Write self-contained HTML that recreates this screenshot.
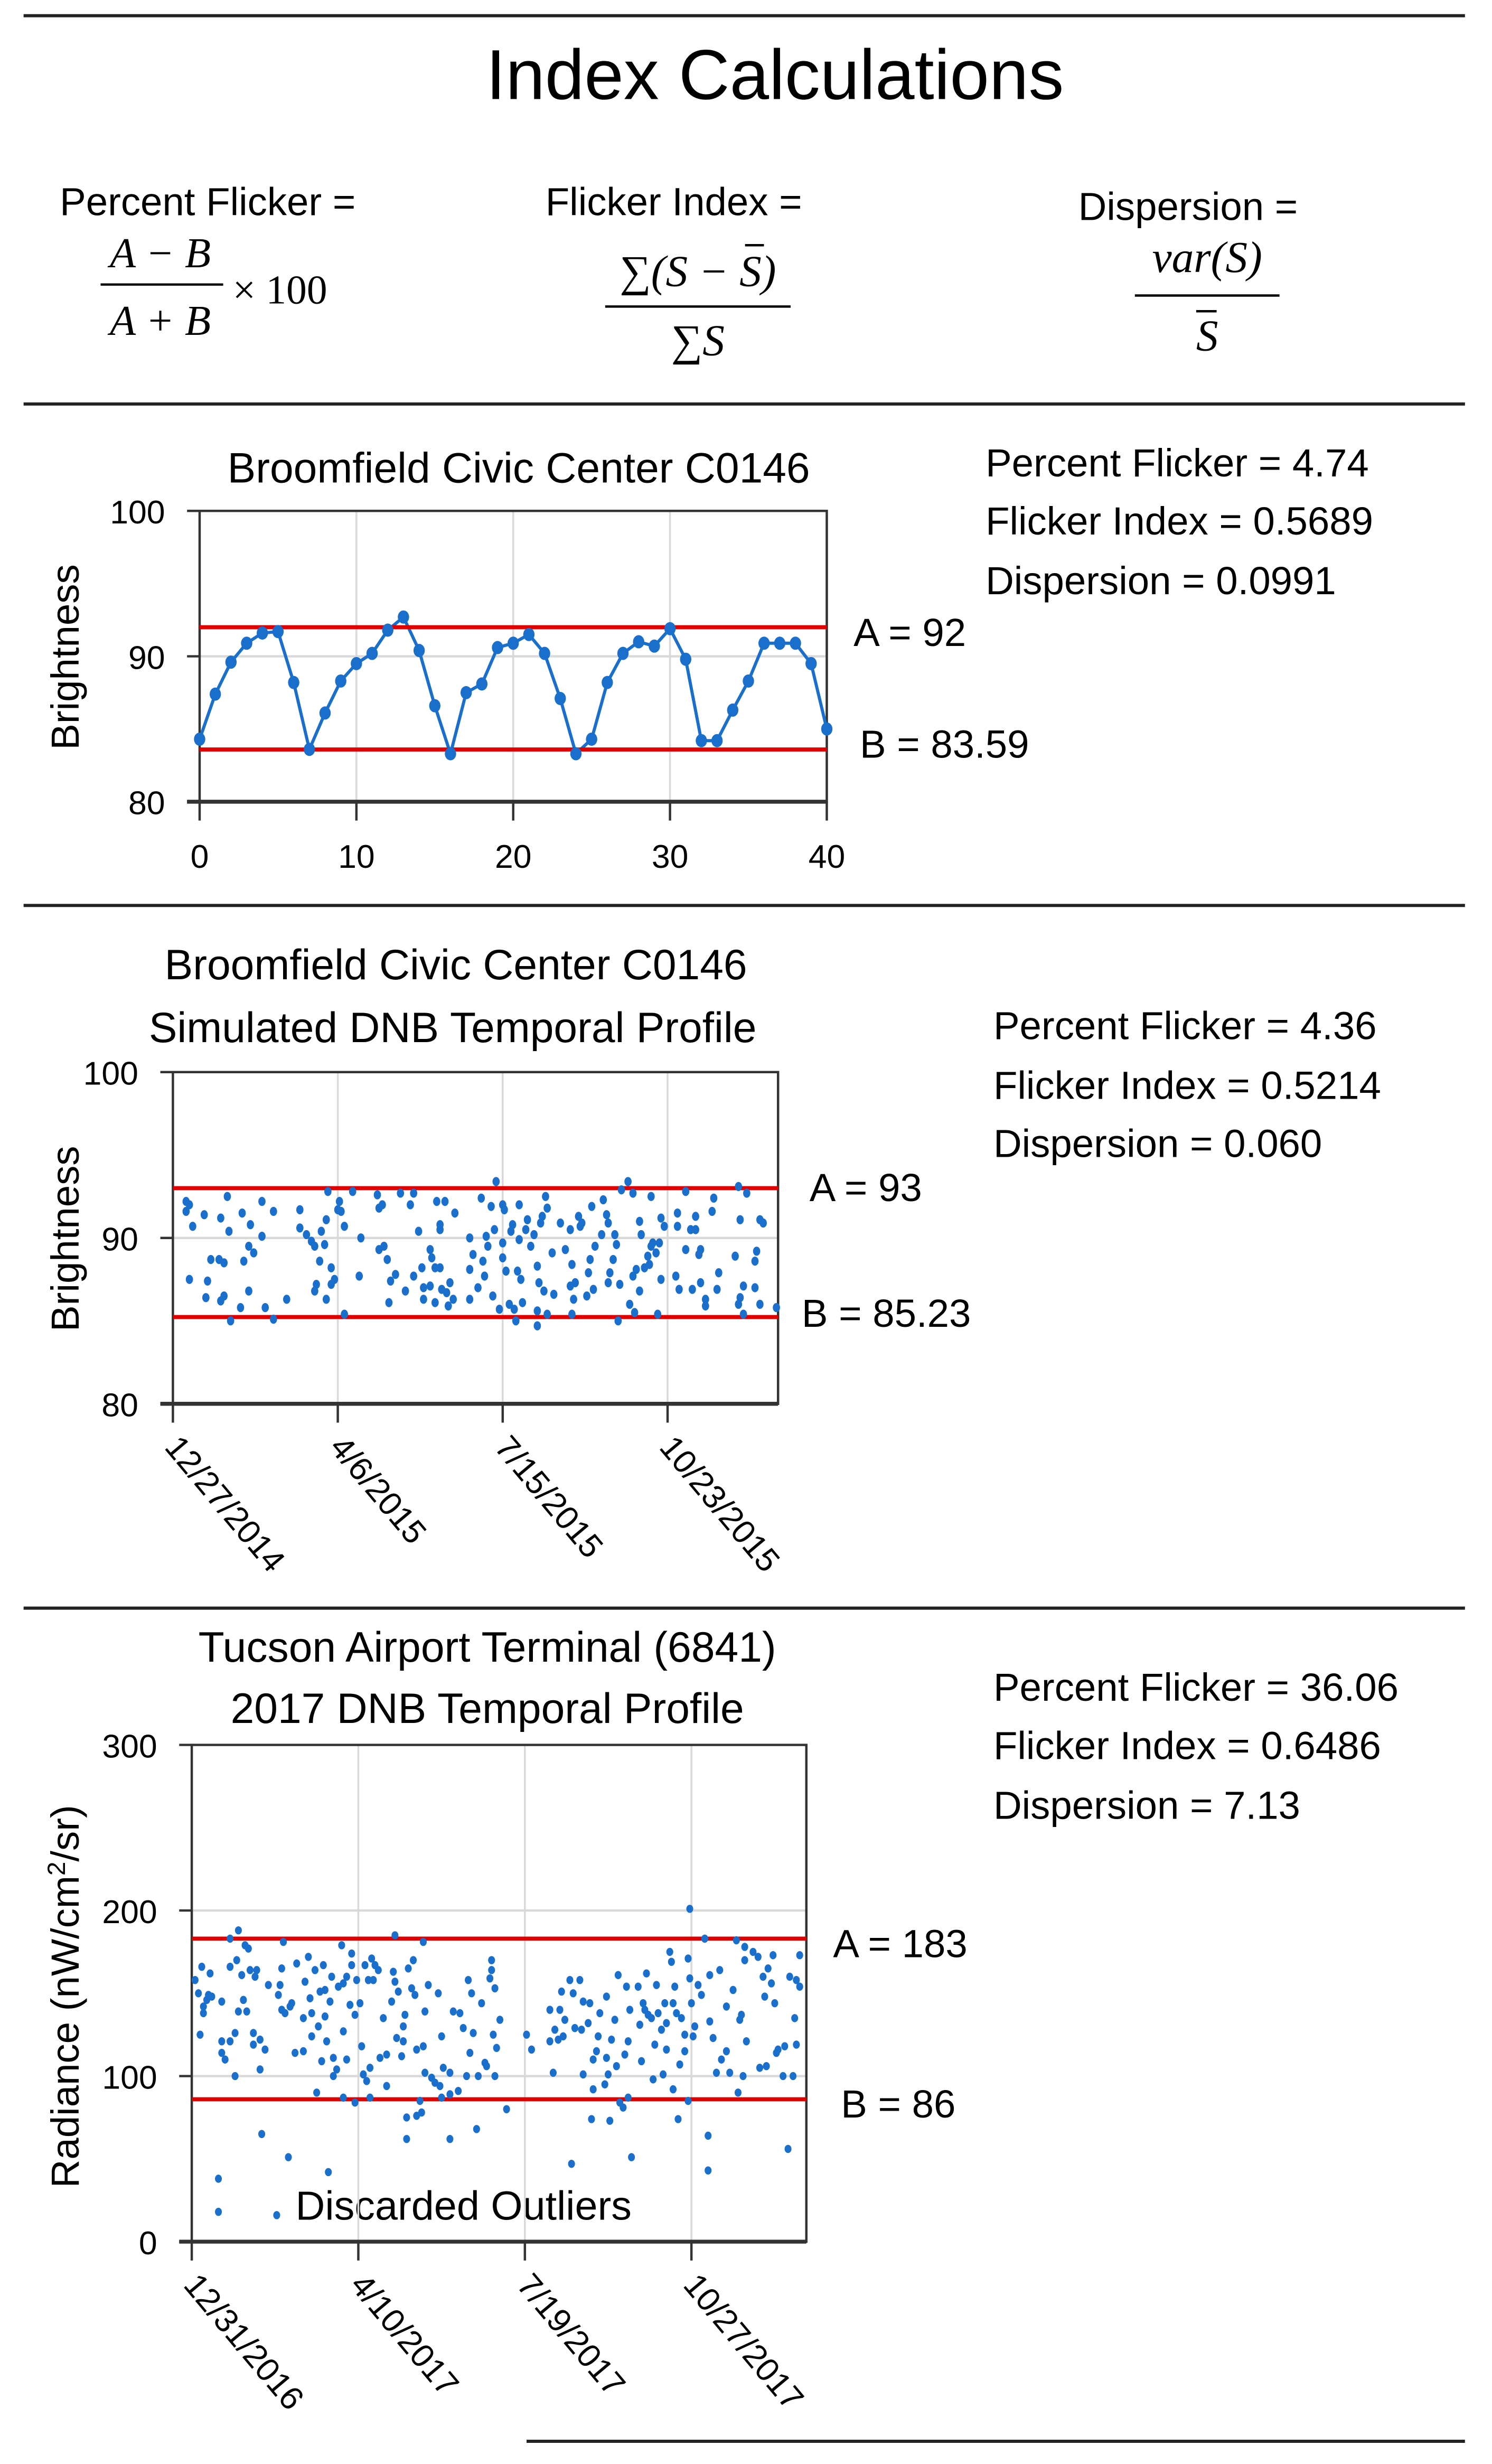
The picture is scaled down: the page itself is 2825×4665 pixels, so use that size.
<!DOCTYPE html>
<html><head><meta charset="utf-8">
<style>
html,body{margin:0;padding:0;background:#fff;}
svg{display:block;}
text{font-family:"Liberation Sans","DejaVu Sans",sans-serif;fill:#000;}
.m{font-family:"Liberation Serif",serif;font-style:italic;}
</style></head>
<body>
<svg id="svg" xmlns="http://www.w3.org/2000/svg" width="2825" height="4665" viewBox="0 0 949.2 1567.4" preserveAspectRatio="xMinYMin meet">
<g>
<line x1="15" y1="10" x2="932" y2="10" stroke="#222" stroke-width="2"/>
<text x="493" y="63" font-size="45" text-anchor="middle">Index Calculations</text>
<text x="38" y="137" font-size="25">Percent Flicker =</text>
<text class="m" x="102" y="170" font-size="27" text-anchor="middle">A − B</text>
<line x1="64" y1="181" x2="142" y2="181" stroke="#000" stroke-width="1.5"/>
<text class="m" x="102" y="213" font-size="27" text-anchor="middle">A + B</text>
<text x="148" y="193" font-size="26" style="font-family:'Liberation Serif',serif">× 100</text>
<text x="347" y="137" font-size="25">Flicker Index =</text>
<text class="m" x="444" y="182" font-size="28" text-anchor="middle">∑(S − S)</text>
<line x1="474" y1="156" x2="486" y2="156" stroke="#000" stroke-width="1.5"/>
<line x1="385" y1="195" x2="503" y2="195" stroke="#000" stroke-width="1.5"/>
<text class="m" x="444" y="226" font-size="28" text-anchor="middle">∑S</text>
<text x="686" y="140" font-size="25">Dispersion =</text>
<text class="m" x="768" y="173" font-size="28" text-anchor="middle">var(S)</text>
<line x1="722" y1="188" x2="814" y2="188" stroke="#000" stroke-width="1.5"/>
<text class="m" x="768" y="223" font-size="28" text-anchor="middle">S</text>
<line x1="761" y1="198" x2="774" y2="198" stroke="#000" stroke-width="1.5"/>
<line x1="15" y1="257" x2="932" y2="257" stroke="#222" stroke-width="2"/>
<line x1="15" y1="576" x2="932" y2="576" stroke="#222" stroke-width="2"/>
<line x1="15" y1="1023" x2="932" y2="1023" stroke="#222" stroke-width="2"/>
<line x1="335" y1="1553" x2="932" y2="1553" stroke="#222" stroke-width="2"/>
</g>

<g>
<text x="330" y="307" font-size="27" text-anchor="middle">Broomfield Civic Center C0146</text>
<text x="627" y="303" font-size="25">Percent Flicker = 4.74</text>
<text x="627" y="340" font-size="25">Flicker Index = 0.5689</text>
<text x="627" y="378" font-size="25">Dispersion = 0.0991</text>
<text x="543" y="411" font-size="25">A = 92</text>
<text x="547" y="482" font-size="25">B = 83.59</text>
<text transform="translate(50,418) rotate(-90)" font-size="25" text-anchor="middle">Brightness</text>
</g>

<g>
<text x="290" y="623" font-size="27" text-anchor="middle">Broomfield Civic Center C0146</text>
<text x="288" y="663" font-size="27" text-anchor="middle">Simulated DNB Temporal Profile</text>
<text x="632" y="661" font-size="25">Percent Flicker = 4.36</text>
<text x="632" y="699" font-size="25">Flicker Index = 0.5214</text>
<text x="632" y="736" font-size="25">Dispersion = 0.060</text>
<text x="515" y="764" font-size="25">A = 93</text>
<text x="510" y="844" font-size="25">B = 85.23</text>
<text transform="translate(50,788) rotate(-90)" font-size="25" text-anchor="middle">Brightness</text>
</g>

<g>
<text x="310" y="1057" font-size="27" text-anchor="middle">Tucson Airport Terminal (6841)</text>
<text x="310" y="1096" font-size="27" text-anchor="middle">2017 DNB Temporal Profile</text>
<text x="632" y="1082" font-size="25">Percent Flicker = 36.06</text>
<text x="632" y="1119" font-size="25">Flicker Index = 0.6486</text>
<text x="632" y="1157" font-size="25">Dispersion = 7.13</text>
<text x="530" y="1245" font-size="25">A = 183</text>
<text x="535" y="1347" font-size="25">B = 86</text>
<text transform="translate(50,1270) rotate(-90)" font-size="25" text-anchor="middle">Radiance (nW/cm<tspan baseline-shift="super" font-size="16">2</tspan>/sr)</text>
<text x="188" y="1412" font-size="26">Discarded Outliers</text>
</g>
<g id="c1"></g>
<g id="c2"></g>
<g id="c3"></g>
</svg>
<script>
const NS="http://www.w3.org/2000/svg";
// ---- chart 1 data ----
const c1Index=[0,1,2,3,4,5,6,7,8,9,10,11,12,13,14,15,16,17,18,19,20,21,22,23,24,25,26,27,28,29,30,31,32,33,34,35,36,37,38,39,40];
const c1Values=[84.3,87.4,89.6,90.9,91.6,91.7,88.2,83.6,86.1,88.3,89.5,90.2,91.8,92.7,90.4,86.6,83.3,87.5,88.1,90.6,90.9,91.5,90.2,87.1,83.3,84.3,88.2,90.2,91.0,90.7,91.9,89.8,84.2,84.2,86.3,88.3,90.9,90.9,90.9,89.5,85.0];
const c1XTicks=[0,10,20,30,40];
const c1YTicks=[80,90,100];
const c1Refs=[92,83.59];
// ---- chart 2 data ----
const c2Days=[8,10,8,12,19,10,21,20,23,29,28,31,34,33,31,29,35,41,42,43,46,47,46,49,54,54,56,61,61,69,77,77,81,84,86,87,86,89,90,92,93,93,94,96,96,98,100,101,102,104,104,109,114,113,124,125,127,125,128,130,131,132,135,138,141,144,146,146,149,151,152,152,156,157,156,159,159,160,162,162,162,163,165,166,167,168,170,171,180,180,180,182,185,187,188,189,190,191,193,194,195,196,198,200,200,200,201,202,204,205,206,207,208,209,210,210,211,212,214,215,217,219,221,221,221,222,223,224,225,226,227,227,230,231,235,238,241,241,242,242,243,244,246,247,248,251,252,253,254,255,256,260,261,263,264,264,265,267,268,269,270,271,272,276,277,279,279,280,281,283,283,284,286,288,289,290,290,291,293,294,295,296,296,298,305,306,306,307,311,311,314,315,317,317,319,320,320,323,323,327,328,330,331,341,343,343,344,344,346,346,348,353,353,354,356,356,358,366];
const c2Values=[92.2,92.0,91.6,90.7,91.4,87.5,87.4,86.4,88.7,91.2,88.7,88.5,90.4,92.5,86.5,86.2,85.0,85.8,91.5,88.6,89.5,90.8,86.8,89.1,90.1,92.2,85.8,91.6,85.1,86.3,91.7,90.6,90.2,89.8,89.5,87.2,86.8,88.6,90.4,89.6,86.3,91.1,92.8,87.2,88.2,87.5,91.7,92.2,91.6,90.7,85.4,92.8,90.0,87.7,92.6,91.8,92.0,89.3,89.5,88.7,86.1,87.4,87.8,92.7,86.8,92.0,92.7,87.7,90.4,88.2,87.0,86.3,89.3,88.8,87.1,86.1,88.2,92.2,90.5,90.8,88.2,86.9,92.2,86.7,85.9,87.3,86.3,91.5,90.0,88.1,86.3,89.0,87.0,92.4,88.6,87.7,90.1,89.5,91.9,86.5,90.5,93.4,85.7,88.8,89.7,92.0,91.7,88.0,86.0,90.4,90.8,85.7,85.0,88.0,89.9,92.0,87.5,86.1,90.5,91.1,89.5,90.2,88.3,85.6,84.7,87.3,90.9,91.3,86.8,92.5,85.4,91.8,89.1,86.6,90.9,89.3,90.5,87.1,88.4,85.4,86.3,87.3,91.3,90.7,90.9,86.5,87.9,88.7,91.9,86.9,89.5,90.2,92.3,91.4,90.9,87.3,87.9,88.7,90.2,89.6,85.0,87.2,92.9,93.4,86.0,92.7,87.7,85.5,88.1,86.8,91.0,90.2,88.2,88.9,88.4,92.5,89.5,89.7,89.1,85.4,89.7,87.5,91.2,90.7,87.7,91.5,90.7,86.9,89.3,92.8,90.5,86.9,91.3,90.5,89.0,89.3,87.3,86.3,85.9,91.6,92.4,86.9,87.9,88.9,93.1,86.0,91.1,86.4,85.4,87.1,92.7,88.6,87.0,89.2,91.1,86.0,90.9,85.8];
const c2TickDays=[0,100,200,300];
const c2TickLabels=["12/27/2014","4/6/2015","7/15/2015","10/23/2015"];
const c2YTicks=[80,90,100];
const c2Refs=[93,85.23];
// ---- chart 3 data ----
const c3Days=[2,4,5,6,7,7,9,10,11,12,16,16,18,18,18,20,23,23,23,26,26,27,28,28,30,31,32,33,34,35,37,37,38,39,41,41,42,44,46,51,52,53,54,54,55,56,58,59,60,62,63,67,67,68,70,71,72,72,74,75,76,77,78,79,80,80,81,82,83,84,85,85,87,88,90,91,91,91,93,93,95,96,96,98,98,99,101,102,103,104,105,106,107,107,108,109,110,112,113,115,117,117,120,121,122,122,123,124,126,127,127,128,129,129,130,132,133,134,135,135,137,138,139,139,140,140,142,144,146,148,149,150,150,151,155,155,155,157,160,161,163,165,166,167,168,169,171,172,174,176,177,179,180,180,181,182,182,183,185,189,201,204,215,215,217,218,220,221,222,223,224,227,228,229,230,233,234,235,235,238,239,240,241,241,243,244,245,248,249,249,250,251,252,254,255,256,257,259,260,261,262,262,263,264,268,269,270,271,272,273,274,276,277,278,279,280,282,283,284,285,285,287,288,289,289,290,291,292,293,294,296,296,298,298,299,299,300,301,302,304,306,308,310,310,311,311,313,315,317,318,321,321,323,325,327,328,329,330,331,332,332,333,337,340,341,343,344,345,346,348,349,350,351,352,355,356,358,359,361,362,363,363,365,365];
const c3Values=[158,150,125,166,142,138,146,149,162,148,38,18,145,121,114,110,183,166,121,126,100,170,188,139,161,146,179,139,177,164,126,119,160,164,104,122,65,116,155,16,149,155,165,140,181,138,51,142,144,114,168,115,135,157,172,147,138,124,164,90,130,151,109,167,136,152,121,42,145,160,111,100,104,154,179,127,87,156,160,110,143,174,167,84,137,158,144,118,101,167,97,158,87,105,171,158,167,164,111,135,94,113,145,163,185,157,123,151,112,130,121,137,75,62,165,153,170,149,116,76,85,78,118,181,139,102,155,99,96,150,94,124,87,105,102,62,89,139,91,138,129,100,158,114,150,126,68,100,144,108,106,159,170,164,125,100,153,117,134,80,125,116,121,140,102,128,122,140,151,124,134,158,47,150,129,158,128,101,145,132,144,74,92,110,115,124,138,95,111,148,101,73,122,134,106,161,84,81,113,154,121,87,140,51,154,131,109,144,140,162,137,135,98,119,155,138,128,101,144,116,132,175,169,144,92,154,138,74,107,135,115,125,171,85,201,159,144,124,130,155,149,183,64,43,161,133,123,102,164,110,115,142,102,152,182,90,134,137,100,170,178,121,175,172,105,160,148,106,165,156,173,144,114,116,100,118,56,160,100,135,158,119,173,154];
const c3TickDays=[0,100,200,300];
const c3TickLabels=["12/31/2016","4/10/2017","7/19/2017","10/27/2017"];
const c3YTicks=[0,100,200,300];
const c3Refs=[183,86];

function mk(parent,tag,attrs){const e=document.createElementNS(NS,tag);for(const k in attrs)e.setAttribute(k,attrs[k]);parent.appendChild(e);return e;}

function axes(g,box,xs,ys,yTicks,xTickVals,xTickLabels,rotate){
  const {l,r,t,b}=box;
  xTickVals.forEach((v,i)=>{
    const x=xs(v);
    if(i>0 && x<r-2){const gl=mk(g,'line',{x1:x,y1:t,x2:x,y2:b,stroke:'#d9d9d9','stroke-width':1.2});
      
      }
  });
  yTicks.forEach(v=>{
    const y=ys(v);
    if(y>t+1 && y<b-1){const gl=mk(g,'line',{x1:l,y1:y,x2:r,y2:y,stroke:'#d9d9d9','stroke-width':1.5});
      
      }
    const tk=mk(g,'line',{x1:l-8,y1:y,x2:l,y2:y,stroke:'#333','stroke-width':1.5});
    
    
    const tx=mk(g,'text',{x:l-22,y:y+8,'font-size':21,'text-anchor':'end'});
    tx.textContent=v;
    
    
  });
  const frame=mk(g,'rect',{x:l,y:t,width:r-l,height:b-t,fill:'none',stroke:'#333','stroke-width':1.5});
  
  
  const xa=mk(g,'line',{x1:l-8,y1:b,x2:r,y2:b,stroke:'#333','stroke-width':2.5});
  
  
  xTickVals.forEach((v,i)=>{
    const x=xs(v);
    const tk=mk(g,'line',{x1:x,y1:b,x2:x,y2:b+12,stroke:'#333','stroke-width':1.5});
    
    
    const lab=xTickLabels[i];
    let tx;
    if(rotate){tx=mk(g,'text',{x:0,y:0,'font-size':21,transform:`translate(${x-6},${b+28}) rotate(50)`});}
    else{tx=mk(g,'text',{x:x,y:b+42,'font-size':21,'text-anchor':'middle'});}
    tx.textContent=lab;
    
    
  });
}
function refLines(g,box,ys,refs){
  refs.forEach((v,i)=>{
    const y=ys(v);
    const ln=mk(g,'line',{x1:box.l,y1:y,x2:box.r,y2:y,stroke:'#e00000','stroke-width':2.6});
    
    
  });
}
(function(){
  const g=document.getElementById('c1');
  const box={l:127,r:526,t:325,b:510};
  const xs=v=>box.l+(v-0)/40*(box.r-box.l);
  const ys=v=>box.b-(v-80)/20*(box.b-box.t);
  axes(g,box,xs,ys,c1YTicks,c1XTicks,c1XTicks.map(String),false);
  const pts=c1Index.map((d,i)=>xs(d)+','+ys(c1Values[i])).join(' ');
  const pl=mk(g,'polyline',{points:pts,fill:'none',stroke:'#1a6fcc','stroke-width':2});
  
  
  refLines(g,box,ys,c1Refs);
  c1Index.forEach((d,i)=>{
    const c=mk(g,'ellipse',{cx:xs(d),cy:ys(c1Values[i]),rx:3.6,ry:4.2,fill:'#1a6fcc'});
    
    
  });
})();
(function(){
  const g=document.getElementById('c2');
  const box={l:110,r:495,t:682,b:893};
  const xs=v=>box.l+v/367*(box.r-box.l);
  const ys=v=>box.b-(v-80)/20*(box.b-box.t);
  axes(g,box,xs,ys,c2YTicks,c2TickDays,c2TickLabels,true);
  refLines(g,box,ys,c2Refs);
  c2Days.forEach((d,i)=>{
    const c=mk(g,'ellipse',{cx:xs(d),cy:ys(c2Values[i]),rx:2.3,ry:2.9,fill:'#1a6fcc'});
    
    
  });
})();
(function(){
  const g=document.getElementById('c3');
  const box={l:122,r:513,t:1110,b:1426};
  const xs=v=>box.l+v/369*(box.r-box.l);
  const ys=v=>box.b-v/300*(box.b-box.t);
  axes(g,box,xs,ys,c3YTicks,c3TickDays,c3TickLabels,true);
  refLines(g,box,ys,c3Refs);
  c3Days.forEach((d,i)=>{
    const c=mk(g,'ellipse',{cx:xs(d),cy:ys(c3Values[i]),rx:2.2,ry:2.6,fill:'#1a6fcc'});
    
    
  });
})();
</script>
</body></html>
